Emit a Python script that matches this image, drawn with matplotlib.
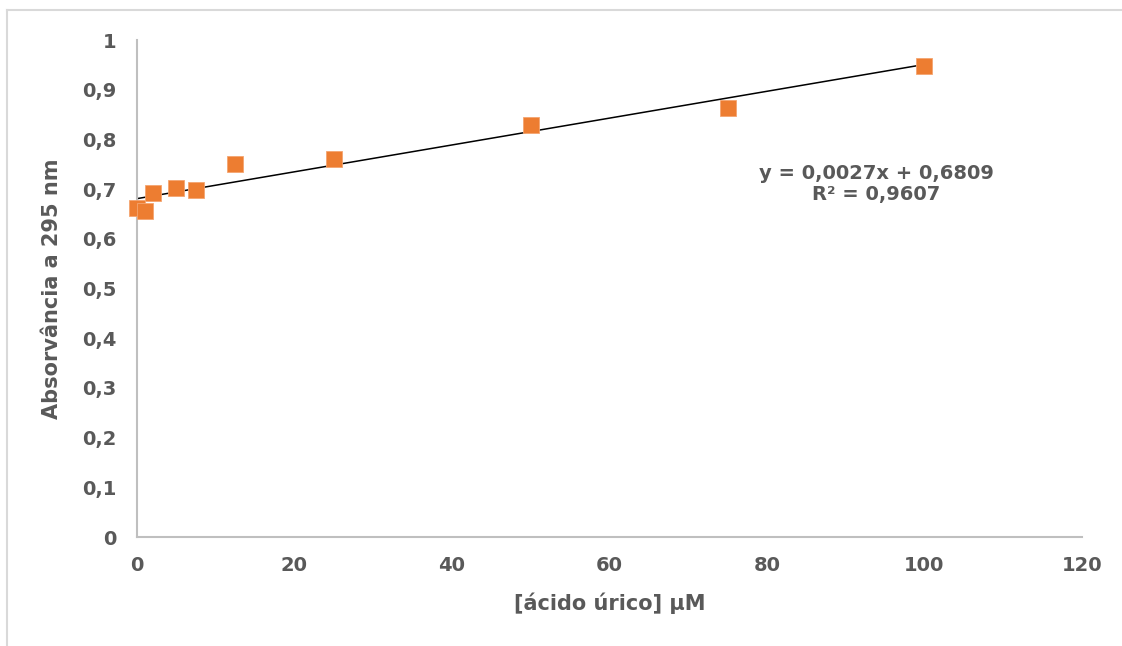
import numpy as np
import matplotlib.pyplot as plt
from matplotlib.lines import Line2D
from matplotlib.ticker import FuncFormatter

# concentração de ácido úrico (uM) e absorvância lida
conc = [0, 1, 2, 5, 7.5, 12.5, 25, 50, 75, 100]
absorv = [0.662, 0.656, 0.692, 0.702, 0.698, 0.750, 0.761, 0.829, 0.863, 0.948]

slope = 0.0027
intercept = 0.6809

gray = '#595959'
plt.rcParams['font.family'] = ['DejaVu Sans']

fig = plt.figure(figsize=(11.22, 6.46), dpi=100)
ax = fig.add_axes([0.1221, 0.1687, 0.8422, 0.7693])

# linha de tendência
xt = np.array([min(conc), max(conc)])
ax.plot(xt, slope * xt + intercept, color='black', linewidth=1.1, zorder=2)
ax.plot(conc, absorv, linestyle='none', marker='s', markersize=11.5, clip_on=False,
        color='#ED7D31', markeredgecolor='#F4A570', markeredgewidth=0.6, zorder=3)

ax.set_xlim(0, 120)
ax.set_ylim(0, 1)
ax.set_xticks(np.arange(0, 121, 20))
ax.set_yticks(np.arange(0, 1.01, 0.1))
ax.yaxis.set_major_formatter(FuncFormatter(lambda v, p: ('%g' % round(v, 1)).replace('.', ',')))

for s in ['top', 'right']:
    ax.spines[s].set_visible(False)
for s in ['left', 'bottom']:
    ax.spines[s].set_color('#BFBFBF')
    ax.spines[s].set_linewidth(1.5)
ax.tick_params(length=0, labelsize=14, labelcolor=gray)
ax.tick_params(axis='x', pad=14)
ax.tick_params(axis='y', pad=15)
for lab in ax.get_xticklabels() + ax.get_yticklabels():
    lab.set_fontweight('bold')

ax.set_xlabel('[ácido úrico] µM', fontsize=15, fontweight='bold', color=gray, labelpad=12)
ax.set_ylabel('Absorvância a 295 nm', fontsize=15, fontweight='bold', color=gray, labelpad=14)

ax.text(93.9, 0.71, 'y = 0,0027x + 0,6809\nR² = 0,9607', ha='center', va='center',
        fontsize=14, fontweight='bold', color=gray, linespacing=1.15)

# moldura da área do gráfico
fig.add_artist(Line2D([7 / 1122, 7 / 1122], [0, 1 - 10 / 646], color='#D9D9D9', linewidth=1.5))
fig.add_artist(Line2D([7 / 1122, 1], [1 - 10 / 646, 1 - 10 / 646], color='#D9D9D9', linewidth=1.5))

fig.savefig('out.png', dpi=100)
